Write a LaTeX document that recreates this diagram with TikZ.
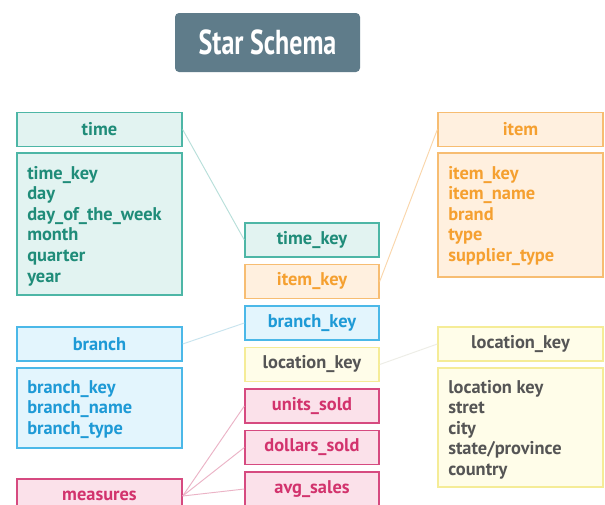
\documentclass[tikz,border=0pt]{standalone}
\usepackage{fontspec}
\setmainfont{PT Sans}
\newfontfamily\titlef{PT Sans}[FakeStretch=0.75]
\definecolor{tealB}{HTML}{4DB6A6}
\definecolor{tealF}{HTML}{E2F3F1}
\definecolor{tealT}{HTML}{1F8C79}
\definecolor{tealL}{HTML}{B8DFDA}
\definecolor{orB}{HTML}{F7BD72}
\definecolor{orF}{HTML}{FFF0DF}
\definecolor{orT}{HTML}{F5A030}
\definecolor{orL}{HTML}{FAD6AA}
\definecolor{blB}{HTML}{4BB8E8}
\definecolor{blF}{HTML}{E3F5FD}
\definecolor{blT}{HTML}{1E9AD6}
\definecolor{blL}{HTML}{C8E4EE}
\definecolor{yeB}{HTML}{F5EC97}
\definecolor{yeF}{HTML}{FFFDE9}
\definecolor{yeT}{HTML}{555555}
\definecolor{yeL}{HTML}{EDEDE6}
\definecolor{pkB}{HTML}{D64A80}
\definecolor{pkF}{HTML}{FBE1EA}
\definecolor{pkT}{HTML}{D2336D}
\definecolor{pkL}{HTML}{EBB3C6}
\definecolor{ttlF}{HTML}{5F7C8A}
\begin{document}
\begin{tikzpicture}[x=0.75pt,y=-0.75pt,
  txt/.style={font=\fontsize{13.8}{15.4}\selectfont\bfseries},
  hdr/.style={draw, line width=1pt, inner sep=0pt, minimum width=123.75pt, minimum height=25.5pt, txt},
  keybox/.style={draw, line width=1pt, inner sep=0pt, minimum width=100.5pt, minimum height=25.5pt, txt},
  bodybox/.style={draw, line width=1pt, inner sep=0pt, minimum width=123.75pt},
  bodytext/.style={anchor=north west, inner sep=0pt, align=left, txt},
  tealc/.style={draw=tealB, fill=tealF, text=tealT},
  orc/.style={draw=orB, fill=orF, text=orT},
  blc/.style={draw=blB, fill=blF, text=blT},
  yec/.style={draw=yeB, fill=yeF, text=yeT},
  pkc/.style={draw=pkB, fill=pkF, text=pkT},
  conn/.style={line width=0.7pt}]
\clip (0,0) rectangle (605,504);
\useasboundingbox (0,0) rectangle (605,504);
\fill[white] (0,0) rectangle (605,504);
% title
\node[fill=ttlF, rounded corners=3pt, minimum width=138.75pt, minimum height=44.25pt, inner sep=0pt,
  text=white, font=\titlef\fontsize{26}{28}\selectfont\bfseries] (title) at (267.5,42.5) {Star Schema};
% time
\node[hdr, tealc] (timeh) at (99.5,129.5) {time};
\node[bodybox, tealc, minimum height=106.5pt] (timeb) at (99.5,224) {};
\node[bodytext, text=tealT] (timet) at (27,166) {time\_key\\day\\day\_of\_the\_week\\month\\quarter\\year};
% item
\node[hdr, orc] (itemh) at (520.5,129.5) {item};
\node[bodybox, orc, minimum height=93pt] (itemb) at (520.5,215) {};
\node[bodytext, text=orT] (itemt) at (448,166) {item\_key\\item\_name\\brand\\type\\supplier\_type};
% branch
\node[hdr, blc] (branchh) at (99.5,344) {branch};
\node[bodybox, blc, minimum height=60pt] (branchb) at (99.5,408) {};
\node[bodytext, text=blT] (brancht) at (27,380) {branch\_key\\branch\_name\\branch\_type};
% location
\node[hdr, yec] (loch) at (520.5,344) {location\_key};
\node[bodybox, yec, minimum height=89.25pt] (locb) at (520.5,427.5) {};
\node[bodytext, text=yeT] (loct) at (448,380) {location key\\stret\\city\\state/province\\country};
% measures
\node[hdr, pkc] (meash) at (99.5,496) {measures};
% central fact keys
\node[keybox, tealc] (tk) at (312,240) {time\_key};
\node[keybox, orc] (ik) at (312,281.5) {item\_key};
\node[keybox, blc] (bk) at (312,323) {branch\_key};
\node[keybox, yec] (lk) at (312,364.5) {location\_key};
\node[keybox, pkc] (us) at (312,406) {units\_sold};
\node[keybox, pkc] (ds) at (312,447.5) {dollars\_sold};
\node[keybox, pkc] (as) at (312,489) {avg\_sales};
% connectors
\draw[conn, tealL] (timeh.east) -- (tk.west);
\draw[conn, orL] (itemh.west) -- (ik.east);
\draw[conn, blL] (branchh.east) -- (bk.west);
\draw[conn, yeL] (lk.east) -- (loch.west);
\draw[conn, pkL] (meash.east) -- (us.west);
\draw[conn, pkL] (meash.east) -- (ds.west);
\draw[conn, pkL] (meash.east) -- (as.west);
\end{tikzpicture}
\end{document}
